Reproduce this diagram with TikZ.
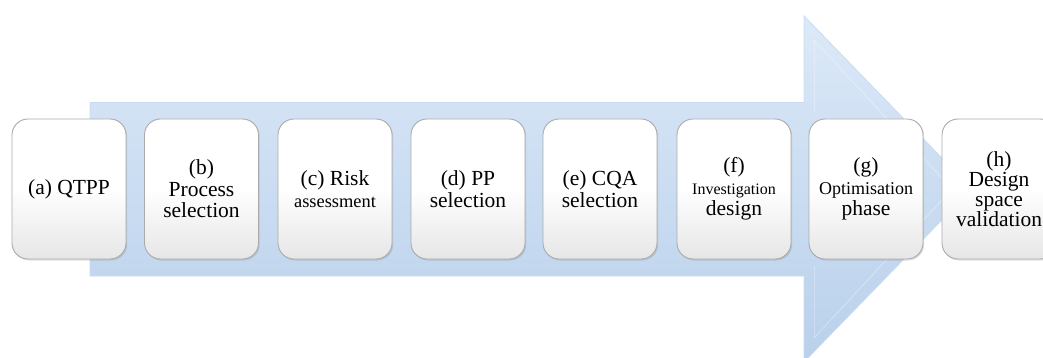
\documentclass[tikz,border=0pt]{standalone}
\usepackage{fontspec}
\setmainfont{Liberation Serif}
\usetikzlibrary{shadows}
\definecolor{arrowtop}{HTML}{DCE9F8}
\definecolor{arrowbot}{HTML}{B9D0EB}
\definecolor{arrowedge}{HTML}{C9DCF0}
\definecolor{boxedge}{HTML}{ABABAB}
\definecolor{boxbot}{HTML}{E6E6E6}
\tikzset{
  stepbox/.style={rounded corners=16pt, minimum width=114pt, minimum height=140pt,
    inner sep=2pt, align=center, draw=boxedge, line width=0.9pt,
    top color=white, bottom color=boxbot, middle color=white,
    drop shadow={opacity=0.25, shadow xshift=1.2pt, shadow yshift=-1.5pt},
    font=\fontsize{21.5}{21.5}\selectfont},
}
\newcommand{\smallline}[2]{{\fontsize{#1}{#1}\selectfont #2}}
\begin{document}
\begin{tikzpicture}[x=1pt,y=-1pt]
\useasboundingbox (0,0) rectangle (1043,358);
% big arrow
\path[top color=arrowtop, bottom color=arrowbot, draw=arrowedge, line width=0.8pt]
  (90,102.5) -- (804,102.5) -- (804,16) -- (972,189) -- (804,362) -- (804,276) -- (90,276) -- cycle;
% bevel inner line
\draw[white, opacity=0.3, line width=1pt]
  (814,40) -- (952,189) -- (814,338);
\draw[white, opacity=0.25, line width=1pt]
  (814,40) -- (814,112);
\draw[white, opacity=0.25, line width=1pt]
  (814,266) -- (814,338);
% boxes
\node[stepbox] (a) at (69,189) {(a) QTPP};
\node[stepbox] (b) at (201.5,189) {(b)\\Process\\selection};
\node[stepbox] (c) at (335,189) {(c) Risk\\\smallline{18.4}{assessment}};
\node[stepbox] (d) at (468,189) {(d) PP\\selection};
\node[stepbox] (e) at (600,189) {(e) CQA\\selection};
\node[stepbox] (f) at (734,189) {(f)\\\smallline{16}{Investigation}\\design};
\node[stepbox] (g) at (866,189) {(g)\\\smallline{18}{Optimisation}\\phase};
\node[stepbox, font=\fontsize{21.5}{20}\selectfont] (h) at (999,189) {(h)\\Design\\space\\validation};
\end{tikzpicture}
\end{document}
